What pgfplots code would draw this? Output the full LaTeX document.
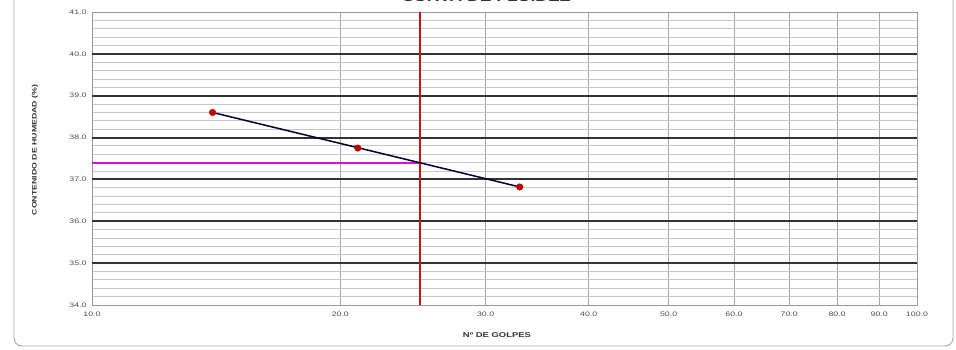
\documentclass[border=0pt]{standalone}
\usepackage{pgfplots}
\pgfplotsset{compat=1.18}
\usepackage{fontspec}
\setmainfont{Liberation Sans}[FakeStretch=1.35]
\definecolor{lmag}{RGB}{210,20,210}
\definecolor{vred}{RGB}{200,20,20}
\begin{document}
\begin{tikzpicture}
\useasboundingbox (0pt,0pt) rectangle (956pt,349pt);
\draw[black!35, rounded corners=8pt, line width=0.9pt] (14pt,3pt) rectangle (953pt,380pt);
\begin{scope}
\clip (0pt,0pt) rectangle (956pt,349pt);
\node[anchor=base, font=\bfseries\fontsize{13}{13}\selectfont, text=black!80] at (486pt,347pt) {CURVA DE FLUIDEZ};
\end{scope}
\node[rotate=90, font=\bfseries\fontsize{6.5}{6.5}\selectfont, text=black!80] at (35pt,199pt) {CONTENIDO DE HUMEDAD (\%)};
\node[font=\bfseries\fontsize{7}{7}\selectfont, text=black!80] at (497pt,14pt) {Nº DE GOLPES};
\begin{axis}[
  at={(92pt,44pt)}, anchor=south west,
  scale only axis, width=825pt, height=293pt,
  xmode=log, log basis x=10,
  xmin=10, xmax=100, ymin=34, ymax=41,
  xtick={10,20,30,40,50,60,70,80,90,100},
  xticklabels={10.0,20.0,30.0,40.0,50.0,60.0,70.0,80.0,90.0,100.0},
  ytick={34,35,36,37,38,39,40,41},
  yticklabels={34.0,35.0,36.0,37.0,38.0,39.0,40.0,41.0},
  minor y tick num=4,
  xmajorgrids, yminorgrids,
  x grid style={black!35, line width=0.6pt},
  y grid style={black!22, line width=0.9pt},
  extra y ticks={35,36,37,38,39,40},
  extra y tick labels={},
  extra y tick style={ymajorgrids=true, y grid style={black!80, line width=1.9pt}},
  tick style={draw=none},
  axis line style={black!40, line width=0.8pt},
  ticklabel style={font=\fontsize{6.5}{6.5}\selectfont, text=black!70},
  xticklabel style={yshift=-3pt},
  yticklabel style={xshift=-2pt},
]
\addplot[lmag, line width=2pt] coordinates {(10,37.4) (25,37.4)};
\addplot[vred, line width=1.8pt] coordinates {(25,34) (25,41)};
\addplot[black!80!blue, line width=1.5pt] coordinates {(14,38.6) (33,36.82)};
\addplot[only marks, mark=*, mark size=3.3pt, color=red!75!black] coordinates {(14,38.6) (21,37.75) (33,36.82)};
\end{axis}
\end{tikzpicture}
\end{document}
